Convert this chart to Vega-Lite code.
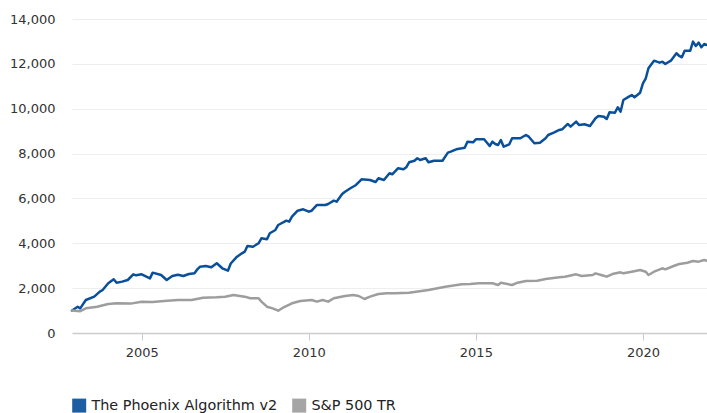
{
  "$schema": "https://vega.github.io/schema/vega-lite/v6.json",
  "width": 635,
  "height": 314,
  "autosize": {"type": "none"},
  "padding": {"left": 72, "top": 19, "right": 0, "bottom": 80},
  "background": "#ffffff",
  "config": {
    "view": {"stroke": null},
    "font": "DejaVu Sans"
  },
  "data": {
    "values": [
      {"date": "2002-12", "series": "The Phoenix Algorithm v2", "value": 1000},
      {"date": "2003-02", "series": "The Phoenix Algorithm v2", "value": 1173},
      {"date": "2003-03", "series": "The Phoenix Algorithm v2", "value": 1100},
      {"date": "2003-05", "series": "The Phoenix Algorithm v2", "value": 1471},
      {"date": "2003-08", "series": "The Phoenix Algorithm v2", "value": 1620},
      {"date": "2003-10", "series": "The Phoenix Algorithm v2", "value": 1843},
      {"date": "2003-11", "series": "The Phoenix Algorithm v2", "value": 1917},
      {"date": "2004-01", "series": "The Phoenix Algorithm v2", "value": 2215},
      {"date": "2004-03", "series": "The Phoenix Algorithm v2", "value": 2394},
      {"date": "2004-04", "series": "The Phoenix Algorithm v2", "value": 2243},
      {"date": "2004-06", "series": "The Phoenix Algorithm v2", "value": 2290},
      {"date": "2004-08", "series": "The Phoenix Algorithm v2", "value": 2363},
      {"date": "2004-10", "series": "The Phoenix Algorithm v2", "value": 2616},
      {"date": "2004-11", "series": "The Phoenix Algorithm v2", "value": 2571},
      {"date": "2005-01", "series": "The Phoenix Algorithm v2", "value": 2616},
      {"date": "2005-04", "series": "The Phoenix Algorithm v2", "value": 2437},
      {"date": "2005-05", "series": "The Phoenix Algorithm v2", "value": 2690},
      {"date": "2005-08", "series": "The Phoenix Algorithm v2", "value": 2586},
      {"date": "2005-10", "series": "The Phoenix Algorithm v2", "value": 2363},
      {"date": "2005-12", "series": "The Phoenix Algorithm v2", "value": 2541},
      {"date": "2006-02", "series": "The Phoenix Algorithm v2", "value": 2600},
      {"date": "2006-04", "series": "The Phoenix Algorithm v2", "value": 2541},
      {"date": "2006-06", "series": "The Phoenix Algorithm v2", "value": 2630},
      {"date": "2006-08", "series": "The Phoenix Algorithm v2", "value": 2660},
      {"date": "2006-09", "series": "The Phoenix Algorithm v2", "value": 2840},
      {"date": "2006-10", "series": "The Phoenix Algorithm v2", "value": 2957},
      {"date": "2006-12", "series": "The Phoenix Algorithm v2", "value": 2987},
      {"date": "2007-02", "series": "The Phoenix Algorithm v2", "value": 2930},
      {"date": "2007-04", "series": "The Phoenix Algorithm v2", "value": 3108},
      {"date": "2007-06", "series": "The Phoenix Algorithm v2", "value": 2885},
      {"date": "2007-08", "series": "The Phoenix Algorithm v2", "value": 2778},
      {"date": "2007-09", "series": "The Phoenix Algorithm v2", "value": 3100},
      {"date": "2007-11", "series": "The Phoenix Algorithm v2", "value": 3375},
      {"date": "2008-01", "series": "The Phoenix Algorithm v2", "value": 3554},
      {"date": "2008-02", "series": "The Phoenix Algorithm v2", "value": 3625},
      {"date": "2008-03", "series": "The Phoenix Algorithm v2", "value": 3879},
      {"date": "2008-05", "series": "The Phoenix Algorithm v2", "value": 3848},
      {"date": "2008-07", "series": "The Phoenix Algorithm v2", "value": 4000},
      {"date": "2008-08", "series": "The Phoenix Algorithm v2", "value": 4223},
      {"date": "2008-10", "series": "The Phoenix Algorithm v2", "value": 4178},
      {"date": "2008-11", "series": "The Phoenix Algorithm v2", "value": 4446},
      {"date": "2009-01", "series": "The Phoenix Algorithm v2", "value": 4593},
      {"date": "2009-02", "series": "The Phoenix Algorithm v2", "value": 4816},
      {"date": "2009-05", "series": "The Phoenix Algorithm v2", "value": 5008},
      {"date": "2009-06", "series": "The Phoenix Algorithm v2", "value": 4963},
      {"date": "2009-07", "series": "The Phoenix Algorithm v2", "value": 5186},
      {"date": "2009-09", "series": "The Phoenix Algorithm v2", "value": 5453},
      {"date": "2009-11", "series": "The Phoenix Algorithm v2", "value": 5516},
      {"date": "2010-01", "series": "The Phoenix Algorithm v2", "value": 5409},
      {"date": "2010-02", "series": "The Phoenix Algorithm v2", "value": 5453},
      {"date": "2010-04", "series": "The Phoenix Algorithm v2", "value": 5708},
      {"date": "2010-07", "series": "The Phoenix Algorithm v2", "value": 5708},
      {"date": "2010-08", "series": "The Phoenix Algorithm v2", "value": 5752},
      {"date": "2010-10", "series": "The Phoenix Algorithm v2", "value": 5899},
      {"date": "2010-11", "series": "The Phoenix Algorithm v2", "value": 5855},
      {"date": "2011-01", "series": "The Phoenix Algorithm v2", "value": 6198},
      {"date": "2011-02", "series": "The Phoenix Algorithm v2", "value": 6300},
      {"date": "2011-04", "series": "The Phoenix Algorithm v2", "value": 6452},
      {"date": "2011-06", "series": "The Phoenix Algorithm v2", "value": 6599},
      {"date": "2011-08", "series": "The Phoenix Algorithm v2", "value": 6853},
      {"date": "2011-11", "series": "The Phoenix Algorithm v2", "value": 6822},
      {"date": "2012-01", "series": "The Phoenix Algorithm v2", "value": 6733},
      {"date": "2012-02", "series": "The Phoenix Algorithm v2", "value": 6898},
      {"date": "2012-04", "series": "The Phoenix Algorithm v2", "value": 6822},
      {"date": "2012-06", "series": "The Phoenix Algorithm v2", "value": 7121},
      {"date": "2012-07", "series": "The Phoenix Algorithm v2", "value": 7076},
      {"date": "2012-09", "series": "The Phoenix Algorithm v2", "value": 7344},
      {"date": "2012-11", "series": "The Phoenix Algorithm v2", "value": 7299},
      {"date": "2012-12", "series": "The Phoenix Algorithm v2", "value": 7389},
      {"date": "2013-01", "series": "The Phoenix Algorithm v2", "value": 7612},
      {"date": "2013-03", "series": "The Phoenix Algorithm v2", "value": 7683},
      {"date": "2013-04", "series": "The Phoenix Algorithm v2", "value": 7790},
      {"date": "2013-05", "series": "The Phoenix Algorithm v2", "value": 7714},
      {"date": "2013-07", "series": "The Phoenix Algorithm v2", "value": 7790},
      {"date": "2013-08", "series": "The Phoenix Algorithm v2", "value": 7612},
      {"date": "2013-10", "series": "The Phoenix Algorithm v2", "value": 7683},
      {"date": "2014-01", "series": "The Phoenix Algorithm v2", "value": 7683},
      {"date": "2014-03", "series": "The Phoenix Algorithm v2", "value": 8040},
      {"date": "2014-04", "series": "The Phoenix Algorithm v2", "value": 8084},
      {"date": "2014-06", "series": "The Phoenix Algorithm v2", "value": 8191},
      {"date": "2014-08", "series": "The Phoenix Algorithm v2", "value": 8236},
      {"date": "2014-09", "series": "The Phoenix Algorithm v2", "value": 8263},
      {"date": "2014-10", "series": "The Phoenix Algorithm v2", "value": 8530},
      {"date": "2014-12", "series": "The Phoenix Algorithm v2", "value": 8503},
      {"date": "2015-01", "series": "The Phoenix Algorithm v2", "value": 8637},
      {"date": "2015-04", "series": "The Phoenix Algorithm v2", "value": 8637},
      {"date": "2015-06", "series": "The Phoenix Algorithm v2", "value": 8338},
      {"date": "2015-07", "series": "The Phoenix Algorithm v2", "value": 8530},
      {"date": "2015-08", "series": "The Phoenix Algorithm v2", "value": 8428},
      {"date": "2015-09", "series": "The Phoenix Algorithm v2", "value": 8383},
      {"date": "2015-10", "series": "The Phoenix Algorithm v2", "value": 8606},
      {"date": "2015-11", "series": "The Phoenix Algorithm v2", "value": 8307},
      {"date": "2016-01", "series": "The Phoenix Algorithm v2", "value": 8414},
      {"date": "2016-02", "series": "The Phoenix Algorithm v2", "value": 8682},
      {"date": "2016-04", "series": "The Phoenix Algorithm v2", "value": 8682},
      {"date": "2016-05", "series": "The Phoenix Algorithm v2", "value": 8682},
      {"date": "2016-07", "series": "The Phoenix Algorithm v2", "value": 8829},
      {"date": "2016-08", "series": "The Phoenix Algorithm v2", "value": 8753},
      {"date": "2016-10", "series": "The Phoenix Algorithm v2", "value": 8459},
      {"date": "2016-12", "series": "The Phoenix Algorithm v2", "value": 8486},
      {"date": "2017-02", "series": "The Phoenix Algorithm v2", "value": 8682},
      {"date": "2017-03", "series": "The Phoenix Algorithm v2", "value": 8829},
      {"date": "2017-05", "series": "The Phoenix Algorithm v2", "value": 8931},
      {"date": "2017-07", "series": "The Phoenix Algorithm v2", "value": 9052},
      {"date": "2017-08", "series": "The Phoenix Algorithm v2", "value": 9083},
      {"date": "2017-10", "series": "The Phoenix Algorithm v2", "value": 9320},
      {"date": "2017-11", "series": "The Phoenix Algorithm v2", "value": 9199},
      {"date": "2018-01", "series": "The Phoenix Algorithm v2", "value": 9422},
      {"date": "2018-02", "series": "The Phoenix Algorithm v2", "value": 9275},
      {"date": "2018-04", "series": "The Phoenix Algorithm v2", "value": 9306},
      {"date": "2018-06", "series": "The Phoenix Algorithm v2", "value": 9230},
      {"date": "2018-08", "series": "The Phoenix Algorithm v2", "value": 9574},
      {"date": "2018-09", "series": "The Phoenix Algorithm v2", "value": 9676},
      {"date": "2018-11", "series": "The Phoenix Algorithm v2", "value": 9645},
      {"date": "2018-12", "series": "The Phoenix Algorithm v2", "value": 9543},
      {"date": "2019-01", "series": "The Phoenix Algorithm v2", "value": 9841},
      {"date": "2019-03", "series": "The Phoenix Algorithm v2", "value": 9823},
      {"date": "2019-04", "series": "The Phoenix Algorithm v2", "value": 10064},
      {"date": "2019-05", "series": "The Phoenix Algorithm v2", "value": 9868},
      {"date": "2019-06", "series": "The Phoenix Algorithm v2", "value": 10390},
      {"date": "2019-08", "series": "The Phoenix Algorithm v2", "value": 10537},
      {"date": "2019-09", "series": "The Phoenix Algorithm v2", "value": 10612},
      {"date": "2019-10", "series": "The Phoenix Algorithm v2", "value": 10510},
      {"date": "2019-12", "series": "The Phoenix Algorithm v2", "value": 10715},
      {"date": "2020-01", "series": "The Phoenix Algorithm v2", "value": 11134},
      {"date": "2020-02", "series": "The Phoenix Algorithm v2", "value": 11357},
      {"date": "2020-03", "series": "The Phoenix Algorithm v2", "value": 11803},
      {"date": "2020-05", "series": "The Phoenix Algorithm v2", "value": 12142},
      {"date": "2020-07", "series": "The Phoenix Algorithm v2", "value": 12053},
      {"date": "2020-08", "series": "The Phoenix Algorithm v2", "value": 12097},
      {"date": "2020-09", "series": "The Phoenix Algorithm v2", "value": 11995},
      {"date": "2020-11", "series": "The Phoenix Algorithm v2", "value": 12142},
      {"date": "2021-01", "series": "The Phoenix Algorithm v2", "value": 12472},
      {"date": "2021-02", "series": "The Phoenix Algorithm v2", "value": 12351},
      {"date": "2021-03", "series": "The Phoenix Algorithm v2", "value": 12294},
      {"date": "2021-04", "series": "The Phoenix Algorithm v2", "value": 12588},
      {"date": "2021-06", "series": "The Phoenix Algorithm v2", "value": 12588},
      {"date": "2021-07", "series": "The Phoenix Algorithm v2", "value": 12990},
      {"date": "2021-08", "series": "The Phoenix Algorithm v2", "value": 12797},
      {"date": "2021-09", "series": "The Phoenix Algorithm v2", "value": 12945},
      {"date": "2021-10", "series": "The Phoenix Algorithm v2", "value": 12740},
      {"date": "2021-11", "series": "The Phoenix Algorithm v2", "value": 12887},
      {"date": "2021-12", "series": "The Phoenix Algorithm v2", "value": 12842},
      {"date": "2002-12", "series": "S&P 500 TR", "value": 1000},
      {"date": "2003-03", "series": "S&P 500 TR", "value": 975},
      {"date": "2003-05", "series": "S&P 500 TR", "value": 1100},
      {"date": "2003-09", "series": "S&P 500 TR", "value": 1173},
      {"date": "2004-01", "series": "S&P 500 TR", "value": 1293},
      {"date": "2004-04", "series": "S&P 500 TR", "value": 1324},
      {"date": "2004-09", "series": "S&P 500 TR", "value": 1310},
      {"date": "2005-01", "series": "S&P 500 TR", "value": 1390},
      {"date": "2005-05", "series": "S&P 500 TR", "value": 1382},
      {"date": "2005-09", "series": "S&P 500 TR", "value": 1427},
      {"date": "2006-02", "series": "S&P 500 TR", "value": 1471},
      {"date": "2006-07", "series": "S&P 500 TR", "value": 1471},
      {"date": "2006-11", "series": "S&P 500 TR", "value": 1574},
      {"date": "2007-04", "series": "S&P 500 TR", "value": 1592},
      {"date": "2007-07", "series": "S&P 500 TR", "value": 1620},
      {"date": "2007-10", "series": "S&P 500 TR", "value": 1694},
      {"date": "2008-02", "series": "S&P 500 TR", "value": 1620},
      {"date": "2008-04", "series": "S&P 500 TR", "value": 1547},
      {"date": "2008-07", "series": "S&P 500 TR", "value": 1547},
      {"date": "2008-08", "series": "S&P 500 TR", "value": 1397},
      {"date": "2008-10", "series": "S&P 500 TR", "value": 1173},
      {"date": "2008-12", "series": "S&P 500 TR", "value": 1100},
      {"date": "2009-02", "series": "S&P 500 TR", "value": 995},
      {"date": "2009-04", "series": "S&P 500 TR", "value": 1146},
      {"date": "2009-07", "series": "S&P 500 TR", "value": 1324},
      {"date": "2009-10", "series": "S&P 500 TR", "value": 1427},
      {"date": "2010-02", "series": "S&P 500 TR", "value": 1471},
      {"date": "2010-04", "series": "S&P 500 TR", "value": 1397},
      {"date": "2010-06", "series": "S&P 500 TR", "value": 1471},
      {"date": "2010-08", "series": "S&P 500 TR", "value": 1397},
      {"date": "2010-10", "series": "S&P 500 TR", "value": 1547},
      {"date": "2011-02", "series": "S&P 500 TR", "value": 1650},
      {"date": "2011-05", "series": "S&P 500 TR", "value": 1694},
      {"date": "2011-07", "series": "S&P 500 TR", "value": 1650},
      {"date": "2011-09", "series": "S&P 500 TR", "value": 1516},
      {"date": "2011-11", "series": "S&P 500 TR", "value": 1620},
      {"date": "2012-02", "series": "S&P 500 TR", "value": 1739},
      {"date": "2012-05", "series": "S&P 500 TR", "value": 1769},
      {"date": "2012-08", "series": "S&P 500 TR", "value": 1769},
      {"date": "2013-01", "series": "S&P 500 TR", "value": 1798},
      {"date": "2013-08", "series": "S&P 500 TR", "value": 1917},
      {"date": "2014-02", "series": "S&P 500 TR", "value": 2064},
      {"date": "2014-08", "series": "S&P 500 TR", "value": 2171},
      {"date": "2014-11", "series": "S&P 500 TR", "value": 2185},
      {"date": "2015-02", "series": "S&P 500 TR", "value": 2215},
      {"date": "2015-07", "series": "S&P 500 TR", "value": 2215},
      {"date": "2015-09", "series": "S&P 500 TR", "value": 2140},
      {"date": "2015-10", "series": "S&P 500 TR", "value": 2243},
      {"date": "2016-02", "series": "S&P 500 TR", "value": 2140},
      {"date": "2016-04", "series": "S&P 500 TR", "value": 2243},
      {"date": "2016-07", "series": "S&P 500 TR", "value": 2319},
      {"date": "2016-11", "series": "S&P 500 TR", "value": 2332},
      {"date": "2017-02", "series": "S&P 500 TR", "value": 2408},
      {"date": "2017-07", "series": "S&P 500 TR", "value": 2482},
      {"date": "2017-09", "series": "S&P 500 TR", "value": 2512},
      {"date": "2018-01", "series": "S&P 500 TR", "value": 2616},
      {"date": "2018-03", "series": "S&P 500 TR", "value": 2541},
      {"date": "2018-07", "series": "S&P 500 TR", "value": 2586},
      {"date": "2018-08", "series": "S&P 500 TR", "value": 2660},
      {"date": "2018-10", "series": "S&P 500 TR", "value": 2586},
      {"date": "2018-12", "series": "S&P 500 TR", "value": 2512},
      {"date": "2019-02", "series": "S&P 500 TR", "value": 2630},
      {"date": "2019-05", "series": "S&P 500 TR", "value": 2705},
      {"date": "2019-06", "series": "S&P 500 TR", "value": 2660},
      {"date": "2019-09", "series": "S&P 500 TR", "value": 2733},
      {"date": "2019-12", "series": "S&P 500 TR", "value": 2809},
      {"date": "2020-02", "series": "S&P 500 TR", "value": 2733},
      {"date": "2020-03", "series": "S&P 500 TR", "value": 2586},
      {"date": "2020-05", "series": "S&P 500 TR", "value": 2733},
      {"date": "2020-08", "series": "S&P 500 TR", "value": 2885},
      {"date": "2020-09", "series": "S&P 500 TR", "value": 2840},
      {"date": "2020-12", "series": "S&P 500 TR", "value": 2987},
      {"date": "2021-02", "series": "S&P 500 TR", "value": 3077},
      {"date": "2021-05", "series": "S&P 500 TR", "value": 3135},
      {"date": "2021-07", "series": "S&P 500 TR", "value": 3210},
      {"date": "2021-09", "series": "S&P 500 TR", "value": 3180},
      {"date": "2021-11", "series": "S&P 500 TR", "value": 3255},
      {"date": "2021-12", "series": "S&P 500 TR", "value": 3224}
    ]
  },
  "mark": {"type": "line", "strokeWidth": 2.5, "strokeJoin": "round", "strokeCap": "round"},
  "encoding": {
    "x": {
      "field": "date",
      "type": "temporal",
      "title": null,
      "scale": {"nice": false},
      "axis": {
        "values": [{"year": 2005}, {"year": 2010}, {"year": 2015}, {"year": 2020}],
        "format": "%Y",
        "grid": false,
        "domainColor": "#cccccc",
        "domainWidth": 1.5,
        "tickColor": "#cccccc",
        "tickWidth": 1,
        "tickSize": 7,
        "labelPadding": 6,
        "labelFont": "DejaVu Sans",
        "labelFontSize": 13,
        "labelColor": "#333333"
      }
    },
    "y": {
      "field": "value",
      "type": "quantitative",
      "title": null,
      "scale": {"domain": [0, 14000], "nice": false},
      "axis": {
        "values": [0, 2000, 4000, 6000, 8000, 10000, 12000, 14000],
        "format": ",d",
        "domain": false,
        "ticks": false,
        "grid": true,
        "gridColor": "#eeeeee",
        "gridWidth": 1,
        "labelPadding": 17,
        "labelFont": "DejaVu Sans",
        "labelFontSize": 13,
        "labelColor": "#333333"
      }
    },
    "color": {
      "field": "series",
      "type": "nominal",
      "scale": {
        "domain": ["The Phoenix Algorithm v2", "S&P 500 TR"],
        "range": ["#0a4f9a", "#9d9d9d"]
      },
      "legend": {
        "title": null,
        "orient": "none",
        "legendX": 0,
        "legendY": 379,
        "direction": "horizontal",
        "padding": 0,
        "symbolType": "square",
        "symbolSize": 196,
        "symbolStrokeWidth": 0,
        "labelFont": "DejaVu Sans",
        "labelFontSize": 14.4,
        "labelColor": "#222222",
        "labelOffset": 5,
        "labelLimit": 400,
        "columnPadding": 14,
        "encode": {
          "symbols": {
            "update": {
              "fill": {"scale": "color", "field": "value"},
              "fillOpacity": {"value": 0.92}
            }
          }
        }
      }
    }
  }
}
